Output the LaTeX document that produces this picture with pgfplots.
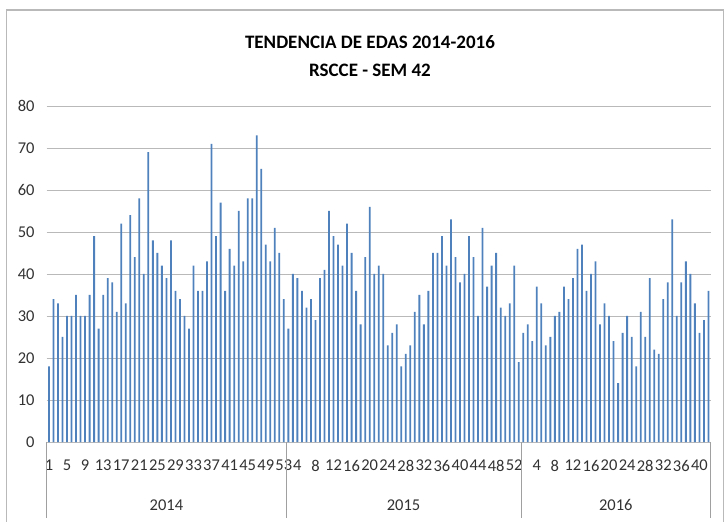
\documentclass[border=0pt]{standalone}
\usepackage{pgfplots}
\usepackage{pgfplotstable}
\usepackage{fontspec}
\setmainfont{Carlito}
\pgfplotsset{compat=1.18}
\definecolor{barblue}{RGB}{79,129,189}
\definecolor{gridgray}{RGB}{185,185,185}
\definecolor{sepgray}{RGB}{160,160,160}
\definecolor{txtgray}{RGB}{50,50,50}
\newcommand{\ticksize}{\fontsize{16.5bp}{18bp}\selectfont}
\newcommand{\titlesize}{\fontsize{19bp}{22bp}\selectfont\bfseries}

\pgfplotstableread{
x y
1 18
2 34
3 33
4 25
5 30
6 30
7 35
8 30
9 30
10 35
11 49
12 27
13 35
14 39
15 38
16 31
17 52
18 33
19 54
20 44
21 58
22 40
23 69
24 48
25 45
26 42
27 39
28 48
29 36
30 34
31 30
32 27
33 42
34 36
35 36
36 43
37 71
38 49
39 57
40 36
41 46
42 42
43 55
44 43
45 58
46 58
47 73
48 65
49 47
50 43
51 51
52 45
53 34
}\yearA

\pgfplotstableread{
x y
54 27
55 40
56 39
57 36
58 32
59 34
60 29
61 39
62 41
63 55
64 49
65 47
66 42
67 52
68 45
69 36
70 28
71 44
72 56
73 40
74 42
75 40
76 23
77 26
78 28
79 18
80 21
81 23
82 31
83 35
84 28
85 36
86 45
87 45
88 49
89 42
90 53
91 44
92 38
93 40
94 49
95 44
96 30
97 51
98 37
99 42
100 45
101 32
102 30
103 33
104 42
105 19
}\yearB

\pgfplotstableread{
x y
106 26
107 28
108 24
109 37
110 33
111 23
112 25
113 30
114 31
115 37
116 34
117 39
118 46
119 47
120 36
121 40
122 43
123 28
124 33
125 30
126 24
127 14
128 26
129 30
130 25
131 18
132 31
133 25
134 39
135 22
136 21
137 34
138 38
139 53
140 30
141 38
142 43
143 40
144 33
145 26
146 29
147 36
}\yearC

\begin{document}
\begin{tikzpicture}
\draw[gray!55, line width=1.2bp] (6.7bp,-5bp) -- (6.7bp,512bp) -- (723.3bp,512bp) -- (723.3bp,-5bp);
\node[font=\titlesize] at (370bp,480bp) {TENDENCIA DE EDAS 2014-2016};
\node[font=\titlesize] at (370bp,452bp) {RSCCE - SEM 42};
\begin{axis}[
  at={(46.7bp,80bp)}, anchor=south west,
  scale only axis, width=664bp, height=336bp,
  xmin=0.5, xmax=147.5, ymin=0, ymax=80,
  ytick={0,10,20,30,40,50,60,70,80},
  xtick={1,5,9,13,17,21,25,29,33,37,41,45,49,53,56,60,64,68,72,76,80,84,88,92,96,100,104,109,113,117,121,125,129,133,137,141,145},
  xticklabels={1,5,9,13,17,21,25,29,33,37,41,45,49,53,4,8,12,16,20,24,28,32,36,40,44,48,52,4,8,12,16,20,24,28,32,36,40},
  ymajorgrids, grid style={draw=gridgray, line width=0.9bp},
  axis line style={draw=none},
  major tick length=0pt, tick style={draw=none},
  ybar, bar width=1.8bp,
  clip=false,
  /pgf/number format/assume math mode=true,
  xticklabel style={font=\ticksize, text=txtgray, inner sep=0pt, anchor=north, yshift=-18bp},
  yticklabel style={font=\ticksize, text=txtgray, inner sep=0pt, anchor=east, xshift=-12bp},
]
\addplot[fill=barblue, draw=none, bar shift=0pt] table[x=x, y=y] {\yearA};
\addplot[fill=barblue, draw=none, bar shift=0pt] table[x=x, y=y] {\yearB};
\addplot[fill=barblue, draw=none, bar shift=0pt] table[x=x, y=y] {\yearC};
\draw[sepgray, line width=0.9bp] (axis cs:0.5,0) -- ++(0bp,-76bp);
\draw[sepgray, line width=0.9bp] (axis cs:53.5,0) -- ++(0bp,-76bp);
\draw[sepgray, line width=0.9bp] (axis cs:105.5,0) -- ++(0bp,-76bp);
\draw[sepgray, line width=0.9bp] (axis cs:147.5,0) -- ++(0bp,-76bp);
\node[font=\ticksize, text=txtgray] at (axis cs:27,0) [yshift=-63bp] {2014};
\node[font=\ticksize, text=txtgray] at (axis cs:79.5,0) [yshift=-63bp] {2015};
\node[font=\ticksize, text=txtgray] at (axis cs:126.5,0) [yshift=-63bp] {2016};
\end{axis}
\pgfresetboundingbox
\path[use as bounding box] (0bp,0bp) rectangle (724bp,522bp);
\end{tikzpicture}
\end{document}
